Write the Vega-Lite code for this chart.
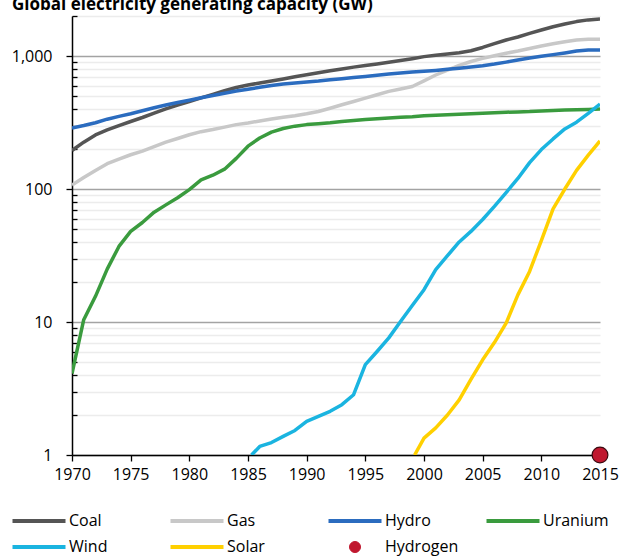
{
  "$schema": "https://vega.github.io/schema/vega-lite/v6.json",
  "width": 528,
  "height": 439,
  "autosize": {"type": "none"},
  "padding": {"left": 72, "top": 16, "right": 20, "bottom": 103},
  "background": "white",
  "title": {"text": "Global electricity generating capacity (GW)", "anchor": "start", "frame": "group", "dx": -60, "offset": 1, "fontSize": 17, "fontWeight": "bold", "font": "Open Sans", "color": "#000000"},
  "config": {"view": {"stroke": null}, "font": "Open Sans"},
  "data": {"values": [
    {"source":"Coal","year":1970,"value":195},{"source":"Coal","year":1971,"value":225},{"source":"Coal","year":1972,"value":255},{"source":"Coal","year":1973,"value":278},{"source":"Coal","year":1974,"value":300},
    {"source":"Coal","year":1975,"value":322},{"source":"Coal","year":1976,"value":345},{"source":"Coal","year":1977,"value":372},{"source":"Coal","year":1978,"value":400},{"source":"Coal","year":1979,"value":428},
    {"source":"Coal","year":1980,"value":455},{"source":"Coal","year":1981,"value":484},{"source":"Coal","year":1982,"value":515},{"source":"Coal","year":1983,"value":548},{"source":"Coal","year":1984,"value":580},
    {"source":"Coal","year":1985,"value":605},{"source":"Coal","year":1986,"value":627},{"source":"Coal","year":1987,"value":648},{"source":"Coal","year":1988,"value":672},{"source":"Coal","year":1989,"value":698},
    {"source":"Coal","year":1990,"value":722},{"source":"Coal","year":1991,"value":748},{"source":"Coal","year":1992,"value":774},{"source":"Coal","year":1993,"value":800},{"source":"Coal","year":1994,"value":825},
    {"source":"Coal","year":1995,"value":848},{"source":"Coal","year":1996,"value":872},{"source":"Coal","year":1997,"value":897},{"source":"Coal","year":1998,"value":925},{"source":"Coal","year":1999,"value":955},
    {"source":"Coal","year":2000,"value":990},{"source":"Coal","year":2001,"value":1015},{"source":"Coal","year":2002,"value":1035},{"source":"Coal","year":2003,"value":1060},{"source":"Coal","year":2004,"value":1095},
    {"source":"Coal","year":2005,"value":1160},{"source":"Coal","year":2006,"value":1240},{"source":"Coal","year":2007,"value":1320},{"source":"Coal","year":2008,"value":1390},{"source":"Coal","year":2009,"value":1480},
    {"source":"Coal","year":2010,"value":1570},{"source":"Coal","year":2011,"value":1660},{"source":"Coal","year":2012,"value":1740},{"source":"Coal","year":2013,"value":1815},{"source":"Coal","year":2014,"value":1870},
    {"source":"Coal","year":2015,"value":1900},

    {"source":"Gas","year":1970,"value":107},{"source":"Gas","year":1971,"value":122},{"source":"Gas","year":1972,"value":138},{"source":"Gas","year":1973,"value":155},{"source":"Gas","year":1974,"value":168},
    {"source":"Gas","year":1975,"value":181},{"source":"Gas","year":1976,"value":193},{"source":"Gas","year":1977,"value":208},{"source":"Gas","year":1978,"value":225},{"source":"Gas","year":1979,"value":240},
    {"source":"Gas","year":1980,"value":256},{"source":"Gas","year":1981,"value":270},{"source":"Gas","year":1982,"value":280},{"source":"Gas","year":1983,"value":292},{"source":"Gas","year":1984,"value":305},
    {"source":"Gas","year":1985,"value":314},{"source":"Gas","year":1986,"value":325},{"source":"Gas","year":1987,"value":336},{"source":"Gas","year":1988,"value":346},{"source":"Gas","year":1989,"value":356},
    {"source":"Gas","year":1990,"value":368},{"source":"Gas","year":1991,"value":383},{"source":"Gas","year":1992,"value":405},{"source":"Gas","year":1993,"value":430},{"source":"Gas","year":1994,"value":455},
    {"source":"Gas","year":1995,"value":483},{"source":"Gas","year":1996,"value":512},{"source":"Gas","year":1997,"value":542},{"source":"Gas","year":1998,"value":565},{"source":"Gas","year":1999,"value":590},
    {"source":"Gas","year":2000,"value":650},{"source":"Gas","year":2001,"value":720},{"source":"Gas","year":2002,"value":785},{"source":"Gas","year":2003,"value":850},{"source":"Gas","year":2004,"value":910},
    {"source":"Gas","year":2005,"value":960},{"source":"Gas","year":2006,"value":1005},{"source":"Gas","year":2007,"value":1050},{"source":"Gas","year":2008,"value":1090},{"source":"Gas","year":2009,"value":1140},
    {"source":"Gas","year":2010,"value":1190},{"source":"Gas","year":2011,"value":1235},{"source":"Gas","year":2012,"value":1280},{"source":"Gas","year":2013,"value":1320},{"source":"Gas","year":2014,"value":1340},
    {"source":"Gas","year":2015,"value":1340},

    {"source":"Hydro","year":1970,"value":288},{"source":"Hydro","year":1971,"value":300},{"source":"Hydro","year":1972,"value":315},{"source":"Hydro","year":1973,"value":335},{"source":"Hydro","year":1974,"value":352},
    {"source":"Hydro","year":1975,"value":368},{"source":"Hydro","year":1976,"value":388},{"source":"Hydro","year":1977,"value":408},{"source":"Hydro","year":1978,"value":428},{"source":"Hydro","year":1979,"value":447},
    {"source":"Hydro","year":1980,"value":465},{"source":"Hydro","year":1981,"value":485},{"source":"Hydro","year":1982,"value":505},{"source":"Hydro","year":1983,"value":525},{"source":"Hydro","year":1984,"value":545},
    {"source":"Hydro","year":1985,"value":562},{"source":"Hydro","year":1986,"value":582},{"source":"Hydro","year":1987,"value":600},{"source":"Hydro","year":1988,"value":615},{"source":"Hydro","year":1989,"value":627},
    {"source":"Hydro","year":1990,"value":638},{"source":"Hydro","year":1991,"value":648},{"source":"Hydro","year":1992,"value":662},{"source":"Hydro","year":1993,"value":675},{"source":"Hydro","year":1994,"value":690},
    {"source":"Hydro","year":1995,"value":703},{"source":"Hydro","year":1996,"value":717},{"source":"Hydro","year":1997,"value":733},{"source":"Hydro","year":1998,"value":746},{"source":"Hydro","year":1999,"value":758},
    {"source":"Hydro","year":2000,"value":768},{"source":"Hydro","year":2001,"value":780},{"source":"Hydro","year":2002,"value":795},{"source":"Hydro","year":2003,"value":810},{"source":"Hydro","year":2004,"value":828},
    {"source":"Hydro","year":2005,"value":846},{"source":"Hydro","year":2006,"value":870},{"source":"Hydro","year":2007,"value":900},{"source":"Hydro","year":2008,"value":935},{"source":"Hydro","year":2009,"value":965},
    {"source":"Hydro","year":2010,"value":995},{"source":"Hydro","year":2011,"value":1025},{"source":"Hydro","year":2012,"value":1055},{"source":"Hydro","year":2013,"value":1090},{"source":"Hydro","year":2014,"value":1110},
    {"source":"Hydro","year":2015,"value":1110},

    {"source":"Uranium","year":1970,"value":4.1},{"source":"Uranium","year":1971,"value":10.4},{"source":"Uranium","year":1972,"value":15.6},{"source":"Uranium","year":1973,"value":25},{"source":"Uranium","year":1974,"value":37},
    {"source":"Uranium","year":1975,"value":48},{"source":"Uranium","year":1976,"value":56},{"source":"Uranium","year":1977,"value":67},{"source":"Uranium","year":1978,"value":76},{"source":"Uranium","year":1979,"value":86},
    {"source":"Uranium","year":1980,"value":99},{"source":"Uranium","year":1981,"value":117},{"source":"Uranium","year":1982,"value":127},{"source":"Uranium","year":1983,"value":141},{"source":"Uranium","year":1984,"value":170},
    {"source":"Uranium","year":1985,"value":210},{"source":"Uranium","year":1986,"value":242},{"source":"Uranium","year":1987,"value":268},{"source":"Uranium","year":1988,"value":285},{"source":"Uranium","year":1989,"value":297},
    {"source":"Uranium","year":1990,"value":305},{"source":"Uranium","year":1991,"value":310},{"source":"Uranium","year":1992,"value":315},{"source":"Uranium","year":1993,"value":322},{"source":"Uranium","year":1994,"value":328},
    {"source":"Uranium","year":1995,"value":333},{"source":"Uranium","year":1996,"value":338},{"source":"Uranium","year":1997,"value":342},{"source":"Uranium","year":1998,"value":347},{"source":"Uranium","year":1999,"value":350},
    {"source":"Uranium","year":2000,"value":355},{"source":"Uranium","year":2001,"value":358},{"source":"Uranium","year":2002,"value":362},{"source":"Uranium","year":2003,"value":365},{"source":"Uranium","year":2004,"value":368},
    {"source":"Uranium","year":2005,"value":372},{"source":"Uranium","year":2006,"value":375},{"source":"Uranium","year":2007,"value":378},{"source":"Uranium","year":2008,"value":380},{"source":"Uranium","year":2009,"value":382},
    {"source":"Uranium","year":2010,"value":386},{"source":"Uranium","year":2011,"value":390},{"source":"Uranium","year":2012,"value":392},{"source":"Uranium","year":2013,"value":394},{"source":"Uranium","year":2014,"value":397},
    {"source":"Uranium","year":2015,"value":400},

    {"source":"Wind","year":1985.3,"value":1.0},{"source":"Wind","year":1986,"value":1.16},{"source":"Wind","year":1987,"value":1.24},{"source":"Wind","year":1988,"value":1.38},{"source":"Wind","year":1989,"value":1.53},
    {"source":"Wind","year":1990,"value":1.79},{"source":"Wind","year":1991,"value":1.95},{"source":"Wind","year":1992,"value":2.13},{"source":"Wind","year":1993,"value":2.39},{"source":"Wind","year":1994,"value":2.84},
    {"source":"Wind","year":1995,"value":4.78},{"source":"Wind","year":1996,"value":6.0},{"source":"Wind","year":1997,"value":7.6},{"source":"Wind","year":1998,"value":10.1},{"source":"Wind","year":1999,"value":13.3},
    {"source":"Wind","year":2000,"value":17.5},{"source":"Wind","year":2001,"value":24.8},{"source":"Wind","year":2002,"value":31.5},{"source":"Wind","year":2003,"value":40},{"source":"Wind","year":2004,"value":48},
    {"source":"Wind","year":2005,"value":59},{"source":"Wind","year":2006,"value":74},{"source":"Wind","year":2007,"value":94},{"source":"Wind","year":2008,"value":120},{"source":"Wind","year":2009,"value":158},
    {"source":"Wind","year":2010,"value":198},{"source":"Wind","year":2011,"value":238},{"source":"Wind","year":2012,"value":283},{"source":"Wind","year":2013,"value":318},{"source":"Wind","year":2014,"value":370},
    {"source":"Wind","year":2015,"value":435},

    {"source":"Solar","year":1999.2,"value":1.0},{"source":"Solar","year":2000,"value":1.34},{"source":"Solar","year":2001,"value":1.6},{"source":"Solar","year":2002,"value":2.0},{"source":"Solar","year":2003,"value":2.6},
    {"source":"Solar","year":2004,"value":3.7},{"source":"Solar","year":2005,"value":5.2},{"source":"Solar","year":2006,"value":7.0},{"source":"Solar","year":2007,"value":9.8},{"source":"Solar","year":2008,"value":16},
    {"source":"Solar","year":2009,"value":24},{"source":"Solar","year":2010,"value":41},{"source":"Solar","year":2011,"value":71},{"source":"Solar","year":2012,"value":100},{"source":"Solar","year":2013,"value":138},
    {"source":"Solar","year":2014,"value":180},{"source":"Solar","year":2015,"value":230},

    {"source":"Hydrogen","year":2015,"value":1}
  ]},
  "layer": [
    {
      "transform": [{"filter": "datum.source !== 'Hydrogen'"}],
      "mark": {"type": "line", "strokeWidth": 3.5, "clip": true, "strokeJoin": "round"},
      "encoding": {
        "x": {"field": "year", "type": "quantitative",
          "scale": {"domain": [1970, 2015], "nice": false, "zero": false},
          "axis": {"values": [1970,1975,1980,1985,1990,1995,2000,2005,2010,2015], "format": "d", "title": null, "grid": false,
            "tickSize": 6, "tickColor": "#000000", "tickWidth": 1.3, "domainColor": "#000000", "domainWidth": 1.5,
            "labelFontSize": 16, "labelFont": "Open Sans", "labelColor": "#000000", "labelPadding": 5, "labelFlush": false}},
        "y": {"field": "value", "type": "quantitative",
          "scale": {"type": "log", "domain": [1, 2000], "nice": false},
          "axis": {"values": [1,2,3,4,5,6,7,8,9,10,20,30,40,50,60,70,80,90,100,200,300,400,500,600,700,800,900,1000,2000],
            "labelExpr": "indexof([1,10,100,1000], datum.value) >= 0 ? format(datum.value, ',') : ''",
            "title": null, "grid": true,
            "gridColor": {"condition": {"test": "indexof([1,10,100,1000], datum.value) >= 0", "value": "#a3a3a3"}, "value": "#ececec"},
            "gridWidth": 1.3,
            "tickSize": {"condition": {"test": "indexof([1,10,100,1000], datum.value) >= 0", "value": 6}, "value": -5},
            "tickColor": "#000000", "tickWidth": 1.3, "domainColor": "#000000", "domainWidth": 1.5,
            "labelFontSize": 16, "labelFont": "Open Sans", "labelColor": "#000000", "labelPadding": 14}},
        "color": {"field": "source", "type": "nominal",
          "scale": {"domain": ["Coal","Gas","Hydro","Uranium","Wind","Solar","Hydrogen"],
                    "range": ["#555555","#c8c8c8","#2b6cbf","#3a9b3e","#1ab4e0","#ffd000","#c0182f"]},
          "legend": {"title": null, "orient": "none", "legendX": -41, "legendY": 497, "direction": "horizontal", "columns": 4,
            "gridAlign": "all", "columnPadding": 19, "rowPadding": 10, "symbolType": "stroke", "symbolSize": 2809,
            "symbolStrokeWidth": 4, "labelFontSize": 16, "labelFont": "Open Sans", "labelColor": "#000000", "labelOffset": 22,
            "padding": 0, "symbolOffset": 0,
            "encode": {"symbols": {"update": {
              "shape": {"signal": "datum.value === 'Hydrogen' ? 'circle' : 'stroke'"},
              "size": {"signal": "datum.value === 'Hydrogen' ? 121 : 2809"},
              "fill": {"signal": "datum.value === 'Hydrogen' ? '#c0182f' : 'transparent'"},
              "stroke": {"signal": "datum.value === 'Hydrogen' ? '#3a0a10' : scale('color', datum.value)"},
              "strokeWidth": {"signal": "datum.value === 'Hydrogen' ? 1 : 4"}
            }}}}},
        "detail": {"field": "source"}
      }
    },
    {
      "transform": [{"filter": "datum.source === 'Hydrogen'"}],
      "mark": {"type": "point", "filled": true, "size": 250, "stroke": "#3a0a10", "strokeWidth": 1.2, "opacity": 1, "clip": false},
      "encoding": {
        "x": {"field": "year", "type": "quantitative"},
        "y": {"field": "value", "type": "quantitative"},
        "color": {"field": "source", "type": "nominal"}
      }
    }
  ]
}
